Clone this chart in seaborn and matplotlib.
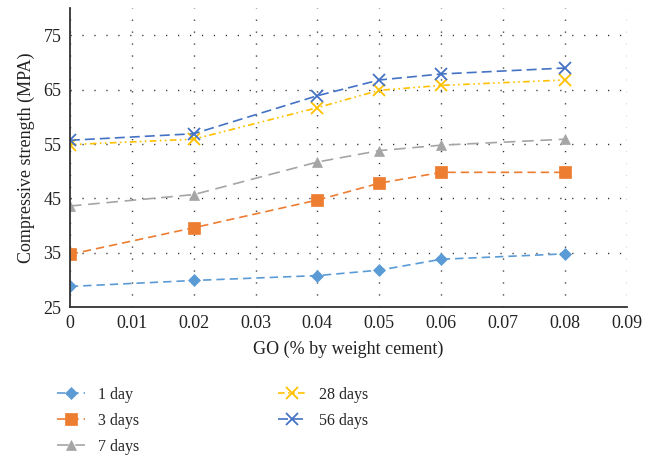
import matplotlib
matplotlib.use("Agg")
import matplotlib.pyplot as plt
import seaborn as sns
import pandas as pd

go = [0, 0.02, 0.04, 0.05, 0.06, 0.08]
day1 = [28.8, 29.9, 30.8, 31.8, 33.8, 34.8]
day3 = [34.7, 39.6, 44.7, 47.8, 49.8, 49.8]
day7 = [43.6, 45.7, 51.7, 53.8, 54.8, 55.9]
day28 = [54.9, 55.9, 61.7, 64.9, 65.8, 66.8]
day56 = [55.7, 56.9, 63.9, 66.8, 67.9, 69.0]
series_names = ["1 day", "3 days", "7 days", "28 days", "56 days"]
xticks = [0, 0.01, 0.02, 0.03, 0.04, 0.05, 0.06, 0.07, 0.08, 0.09]
xtick_labels = ["0", "0.01", "0.02", "0.03", "0.04", "0.05", "0.06", "0.07", "0.08", "0.09"]
yticks = [25, 35, 45, 55, 65, 75]

sns.set_style("white")
plt.rcParams["font.family"] = ["Liberation Serif", "DejaVu Serif"]

fig = plt.figure(figsize=(6.53, 4.57), dpi=100)
ax = fig.add_axes([0.107, 0.328, 0.853, 0.654])

styles = [
    dict(color="#5B9BD5", marker="D", ms=6, dashes=(5, 3)),
    dict(color="#ED7D31", marker="s", ms=9, dashes=(5, 3)),
    dict(color="#A5A5A5", marker="^", ms=7, dashes=(7, 4)),
    dict(color="#FFC000", marker="x", ms=8, dashes=(4, 2, 1, 2, 1, 2)),
    dict(color="#4472C4", marker="x", ms=8, dashes=(6, 3)),
]
data = [day1, day3, day7, day28, day56]

for name, vals, st in zip(series_names, data, styles):
    df = pd.DataFrame({"x": go, "y": vals})
    sns.lineplot(data=df, x="x", y="y", ax=ax, color=st["color"], lw=1.2,
                 marker=st["marker"], markersize=st["ms"], markeredgecolor=st["color"],
                 markerfacecolor=st["color"], markeredgewidth=1.3 if st["marker"] == "x" else 0.5,
                 dashes=st["dashes"], label=name, legend=False)

ax.set_xlim(0, 0.09)
ax.set_ylim(25, 80)
ax.set_xticks(xticks)
ax.set_xticklabels(xtick_labels)
ax.set_yticks(yticks)
ax.tick_params(axis="both", length=0, labelsize=13, colors="#222222", pad=6)
ax.grid(True, color="#333333", linestyle=(0, (0.9, 7.7)), linewidth=1)
ax.set_axisbelow(True)
for s in ["top", "right"]:
    ax.spines[s].set_visible(False)
for s in ["left", "bottom"]:
    ax.spines[s].set_color("#333333")
    ax.spines[s].set_linewidth(1.3)

ax.set_xlabel("GO (% by weight cement)", fontsize=13, color="#222222", labelpad=6)
ax.set_ylabel("Compressive strength (MPA)", fontsize=13, color="#222222", labelpad=6)

handles, labels = ax.get_legend_handles_labels()
fig.legend(handles, labels, loc="upper left", bbox_to_anchor=(0.066, 0.185), ncol=2,
           frameon=False, fontsize=11.5, handlelength=1.75, columnspacing=8.7,
           labelspacing=0.62, handletextpad=0.8)

fig.savefig("out.png", dpi=100)
